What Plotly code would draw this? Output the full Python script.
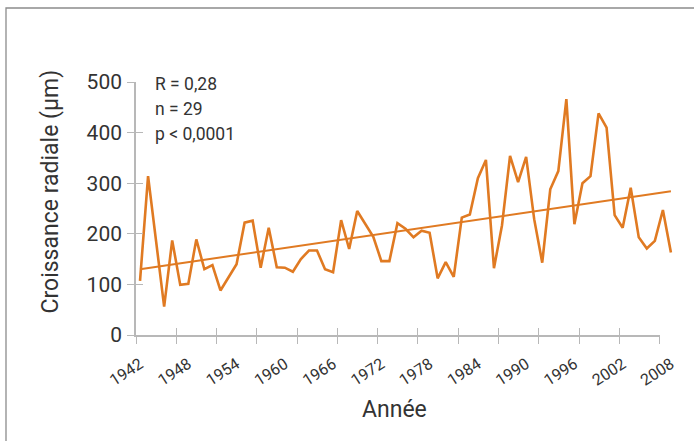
import plotly.graph_objects as go

# ---- data ----
years = list(range(1942, 2009))
growth = [107, 314, 185, 56, 187, 99, 101, 189, 130, 138,
          88, 114, 140, 222, 226, 133, 212, 134, 133, 125,
          150, 167, 167, 130, 124, 227, 170, 245, 220, 194,
          146, 146, 221, 210, 193, 206, 202, 112, 144, 115,
          232, 238, 310, 346, 132, 217, 354, 302, 352, 229,
          143, 288, 324, 466, 219, 300, 314, 438, 410, 237,
          212, 291, 193, 171, 186, 247, 163]
trend_years = [1942, 2008]
trend_values = [130, 284]
x_tick_labels = [1942, 1948, 1954, 1960, 1966, 1972, 1978, 1984, 1990, 1996, 2002, 2008]
y_ticks = [0, 100, 200, 300, 400, 500]
stats_text = ["R = 0,28", "n = 29", "p &lt; 0,0001"]
x_title = "Année"
y_title = "Croissance radiale (µm)"

ORANGE = "#E07A22"
AXIS = "#B8B8B8"
TXT = "#333333"
FONT = "Roboto, Liberation Sans, sans-serif"

fig = go.Figure()
fig.add_trace(go.Scatter(x=years, y=growth, mode="lines", xaxis="x", yaxis="y",
                         line=dict(color=ORANGE, width=2.6), showlegend=False,
                         hoverinfo="skip"))
fig.add_trace(go.Scatter(x=trend_years, y=trend_values, mode="lines", xaxis="x", yaxis="y",
                         line=dict(color=ORANGE, width=2), showlegend=False,
                         hoverinfo="skip"))
# invisible helper traces so the decorative axes (line + crossing ticks) are drawn
for xa, ya in (("x2", "y"), ("x3", "y"), ("x2", "y2")):
    fig.add_trace(go.Scatter(x=[-5], y=[-100], xaxis=xa, yaxis=ya, mode="markers",
                             marker=dict(opacity=0), showlegend=False, hoverinfo="skip"))

L, R, T, B = 136, 11, 82, 106
PW, PH = 694 - L - R, 441 - T - B


def px(xp):
    return (xp - L) / PW


def py(yp):
    return (441 - B - yp) / PH


AX_END = px(659.7)
fig.update_layout(
    width=694, height=441,
    margin=dict(l=L, r=R, t=T, b=B),
    paper_bgcolor="white", plot_bgcolor="rgba(0,0,0,0)",
    font=dict(family=FONT, color=TXT),
    # data x axis with year labels
    xaxis=dict(domain=[0, 1], range=[1941.5, 2009.5], anchor="y", automargin=False,
               tickvals=x_tick_labels, ticktext=[str(v) for v in x_tick_labels],
               ticks="", tickangle=-33, tickfont=dict(size=16, color=TXT),
               ticklabelstandoff=16,
               showline=False, showgrid=False, zeroline=False),
    # decorative x axis: line + tick marks (outside half)
    xaxis2=dict(domain=[0, AX_END], range=[0, 13], tick0=0, dtick=1, anchor="y",
                automargin=False,
                showline=True, linecolor=AXIS, linewidth=1.6,
                ticks="outside", ticklen=7, tickwidth=1.4, tickcolor=AXIS,
                showticklabels=False, showgrid=False, zeroline=False),
    # decorative x axis: inside half of the tick marks
    xaxis3=dict(range=[0, 13], tick0=0, dtick=1, anchor="y", overlaying="x2",
                automargin=False,
                showline=False, ticks="inside", ticklen=7, tickwidth=1.4, tickcolor=AXIS,
                showticklabels=False, showgrid=False, zeroline=False),
    yaxis=dict(range=[0, 500], tickvals=y_ticks, anchor="x2", automargin=False,
               showline=True, linecolor=AXIS, linewidth=1.6,
               ticks="outside", ticklen=7, tickwidth=1.4, tickcolor=AXIS,
               tickfont=dict(size=21, color=TXT), ticklabelstandoff=1,
               showgrid=False, zeroline=False),
    yaxis2=dict(range=[0, 500], tickvals=y_ticks, anchor="x2", overlaying="y",
                automargin=False,
                showline=False, ticks="inside", ticklen=7, tickwidth=1.4, tickcolor=AXIS,
                showticklabels=False, showgrid=False, zeroline=False),
)

# axis titles
fig.add_annotation(text=x_title, xref="paper", yref="paper", x=px(394), y=py(409),
                   xanchor="center", yanchor="middle", showarrow=False,
                   font=dict(size=23, color=TXT))
fig.add_annotation(text=y_title, xref="paper", yref="paper", x=px(50), y=py(191.5),
                   textangle=-90, xanchor="center", yanchor="middle", showarrow=False,
                   font=dict(size=23, color=TXT))

for i, t in enumerate(stats_text):
    fig.add_annotation(text=t, xref="paper", yref="paper",
                       x=px(153), y=py(84 + 25 * i),
                       xanchor="left", yanchor="middle",
                       align="left", showarrow=False, font=dict(size=17.5, color=TXT))

# outer frame (top and left edges visible)
fig.add_shape(type="rect", xref="paper", yref="paper",
              x0=px(6), x1=px(710), y0=py(460), y1=py(8),
              line=dict(color="#8C8C8C", width=1.3), fillcolor="rgba(0,0,0,0)", layer="below")

fig.write_html("out.html", config={"displayModeBar": False},
               post_script="document.body.style.margin='0';")
